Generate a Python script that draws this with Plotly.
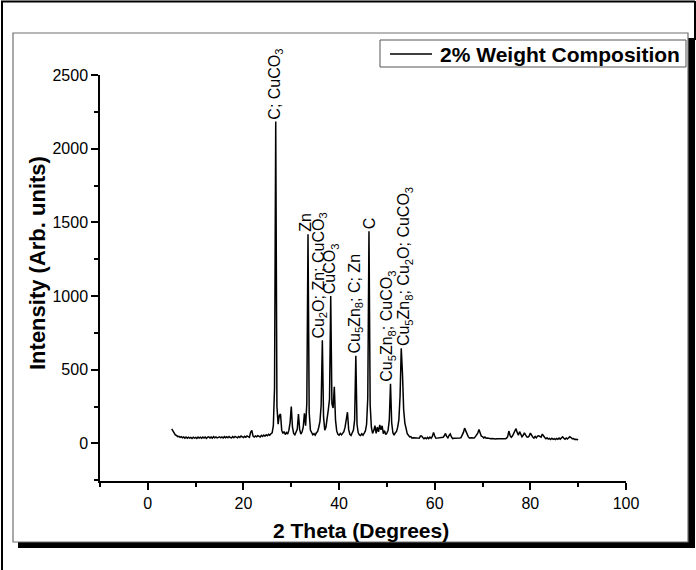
import plotly.graph_objects as go

# ---- data ----
theta_start = 5.0
theta_step = 0.25
intensity = [
    # 5.00 - 9.75
    98, 84, 72, 58, 54, 46, 48, 41, 46, 38, 44, 36, 43, 35, 42, 36, 41, 34, 42, 36,
    # 10.00 - 14.75
    41, 34, 43, 36, 42, 35, 44, 37, 43, 34, 42, 45, 37, 43, 36, 46, 38, 44, 37, 43,
    # 15.00 - 19.75
    45, 38, 44, 37, 46, 39, 45, 38, 47, 40, 37, 46, 39, 48, 40, 38, 47, 41, 50, 42,
    # 20.00 - 24.75
    40, 48, 42, 51, 43, 41, 75, 88, 50, 43, 51, 45, 53, 46, 44, 55, 47, 57, 49, 59,
    # 25.00 - 29.75
    52, 62, 56, 66, 72, 120, 380, 2185, 250, 130, 190, 200, 90, 68, 80, 60, 74, 64, 90, 140,
    # 30.00 - 34.75
    250, 110, 68, 58, 77, 95, 200, 95, 64, 77, 110, 205, 120, 270, 1420, 210, 90, 66, 58, 66,
    # 35.00 - 39.75
    56, 72, 80, 110, 150, 260, 700, 180, 90, 110, 160, 230, 300, 1000, 270, 240, 385, 160, 85, 62,
    # 40.00 - 44.75
    56, 68, 58, 72, 80, 110, 150, 212, 95, 62, 54, 70, 90, 160, 595, 130, 72, 58, 54, 66,
    # 45.00 - 49.75
    56, 70, 85, 130, 310, 1440, 260, 110, 68, 87, 120, 68, 110, 78, 125, 93, 120, 66, 87, 60,
    # 50.00 - 54.75
    70, 90, 160, 405, 140, 72, 56, 72, 80, 110, 160, 320, 645, 480, 230, 140, 95, 66, 56, 44,
    # 55.00 - 59.75
    46, 36, 38, 39, 37, 37, 36, 35, 50, 50, 40, 32, 39, 32, 41, 33, 43, 35, 47, 74,
    # 60.00 - 64.75
    50, 35, 36, 37, 37, 39, 39, 42, 52, 68, 47, 37, 54, 64, 44, 33, 35, 35, 34, 33,
    # 65.00 - 69.75
    36, 37, 39, 55, 75, 104, 80, 55, 46, 37, 39, 39, 37, 37, 46, 55, 70, 95, 70, 49,
    # 70.00 - 74.75
    46, 37, 43, 35, 36, 33, 34, 32, 33, 31, 31, 30, 32, 31, 31, 29, 32, 30, 31, 32,
    # 75.00 - 79.75
    35, 45, 84, 55, 42, 50, 70, 85, 100, 75, 55, 80, 60, 45, 55, 72, 58, 45, 42, 50,
    # 80.00 - 84.75
    70, 52, 44, 36, 47, 38, 50, 52, 44, 43, 63, 48, 40, 32, 38, 29, 34, 27, 35, 28,
    # 85.00 - 89.75
    33, 26, 34, 28, 36, 29, 38, 45, 35, 28, 37, 30, 38, 45, 40, 32, 33, 27, 29, 24,
    # 90.00
    25,
]
theta = [theta_start + i * theta_step for i in range(len(intensity))]

series_name = "2% Weight Composition"

peak_theta = [26.75, 33.5, 36.5, 38.25, 43.5, 46.25, 50.75, 53.0]
peak_int = [2185, 1420, 700, 1000, 595, 1440, 405, 645]
peak_labels = [
    "C; CuCO<sub>3</sub>",
    "Zn",
    "Cu<sub>2</sub>O; Zn; CuCO<sub>3</sub>",
    "CuCO<sub>3</sub>",
    "Cu<sub>5</sub>Zn<sub>8</sub>; C; Zn",
    "C",
    "Cu<sub>5</sub>Zn<sub>8</sub>; CuCO<sub>3</sub>",
    "Cu<sub>5</sub>Zn<sub>8</sub>; Cu<sub>2</sub>O; CuCO<sub>3</sub>",
]
label_xshift = [0, -2, -3, 0, 0, 0, -3, 4]

x_ticks = [0, 20, 40, 60, 80, 100]
y_ticks = [0, 500, 1000, 1500, 2000, 2500]

# ---- geometry helpers (pixel -> paper) ----
W, H = 696, 570
L, R, T, B = 100, 626, 75, 481
def px(x):
    return (x - L) / (R - L)
def py(y):
    return (B - y) / (B - T)

FONT = "Liberation Sans, Arial, sans-serif"

fig = go.Figure()
fig.add_trace(go.Scatter(
    x=theta, y=intensity, mode="lines",
    line=dict(color="black", width=1.5),
    name=series_name,
    showlegend=False,
))

annotations = []
for xv, yv, lab, xs in zip(peak_theta, peak_int, peak_labels, label_xshift):
    annotations.append(dict(
        x=xv, y=yv, xref="x", yref="y", text=lab, showarrow=False,
        textangle=-90, xanchor="center", yanchor="bottom", xshift=xs, yshift=0,
        font=dict(family=FONT, size=16, color="black"),
    ))

annotations.append(dict(
    x=px(37), y=py(263), xref="paper", yref="paper",
    text="<b>Intensity (Arb. units)</b>", showarrow=False, textangle=-90,
    xanchor="center", yanchor="middle",
    font=dict(family=FONT, size=22, color="black"),
))
annotations.append(dict(
    x=px(361), y=py(530), xref="paper", yref="paper",
    text="<b>2 Theta (Degrees)</b>", showarrow=False,
    xanchor="center", yanchor="middle",
    font=dict(family=FONT, size=21, color="black"),
))
# legend text (drawn manually to match the box size)
annotations.append(dict(
    x=px(438), y=py(54), xref="paper", yref="paper",
    text="<b>" + series_name + "</b>", showarrow=False,
    xanchor="left", yanchor="middle",
    font=dict(family=FONT, size=21, color="black"),
))

shapes = [
    # outer frame (left, top, right)
    dict(type="line", xref="paper", yref="paper", x0=px(2), x1=px(2), y0=py(1), y1=py(571),
         line=dict(color="black", width=2)),
    dict(type="line", xref="paper", yref="paper", x0=px(1), x1=px(695), y0=py(1.5), y1=py(1.5),
         line=dict(color="black", width=2)),
    dict(type="line", xref="paper", yref="paper", x0=px(695), x1=px(695), y0=py(1), y1=py(40),
         line=dict(color="black", width=2)),
    # shadow
    dict(type="rect", xref="paper", yref="paper", x0=px(18), x1=px(695), y0=py(542), y1=py(548),
         fillcolor="black", line=dict(width=0)),
    dict(type="rect", xref="paper", yref="paper", x0=px(688), x1=px(695), y0=py(38), y1=py(548),
         fillcolor="black", line=dict(width=0)),
    # inner box
    dict(type="rect", xref="paper", yref="paper", x0=px(13), x1=px(688), y0=py(33), y1=py(542),
         line=dict(color="#707070", width=1.2), fillcolor="rgba(0,0,0,0)"),
    # legend box and sample line
    dict(type="rect", xref="paper", yref="paper", x0=px(380), x1=px(686), y0=py(40), y1=py(67),
         line=dict(color="#555555", width=1), fillcolor="white"),
    dict(type="line", xref="paper", yref="paper", x0=px(390), x1=px(432), y0=py(54), y1=py(54),
         line=dict(color="black", width=1.5)),
]

fig.update_layout(
    width=W, height=H,
    margin=dict(l=L, r=W - R, t=T, b=H - B, pad=0),
    paper_bgcolor="white", plot_bgcolor="white",
    font=dict(family=FONT, size=16, color="black"),
    showlegend=False,
    xaxis=dict(
        range=[-10, 100], tickvals=x_ticks, ticktext=[str(v) for v in x_ticks],
        showline=True, linecolor="black", linewidth=1.5, mirror=False,
        ticks="outside", ticklen=7, tickwidth=1.5, tickcolor="black",
        showgrid=False, zeroline=False,
        tickfont=dict(family=FONT, size=16, color="black"),
        minor=dict(tickvals=[-10, 10, 30, 50, 70, 90], ticks="outside", ticklen=4,
                   tickwidth=1.5, tickcolor="black", showgrid=False),
    ),
    yaxis=dict(
        range=[-255, 2500], tickvals=y_ticks, ticktext=[str(v) for v in y_ticks],
        showline=True, linecolor="black", linewidth=1.5, mirror=False,
        ticks="outside", ticklen=7, tickwidth=1.5, tickcolor="black",
        showgrid=False, zeroline=False,
        tickfont=dict(family=FONT, size=16, color="black"),
        minor=dict(tickvals=[-250, 250, 750, 1250, 1750, 2250], ticks="outside", ticklen=4,
                   tickwidth=1.5, tickcolor="black", showgrid=False),
    ),
    annotations=annotations,
    shapes=shapes,
)

fig.write_html("out.html")
